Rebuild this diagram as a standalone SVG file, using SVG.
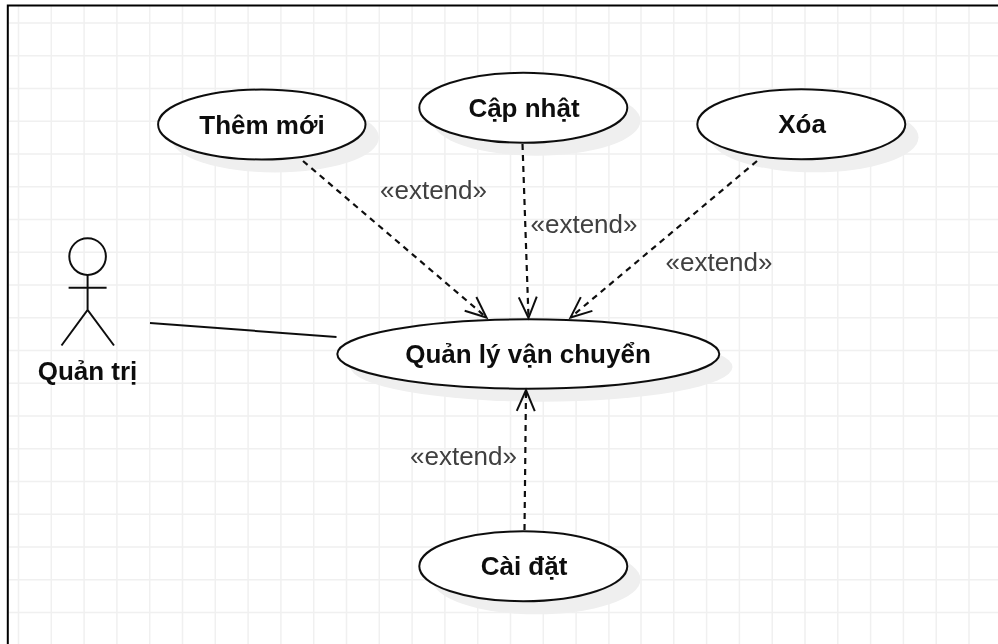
<svg xmlns="http://www.w3.org/2000/svg" width="998" height="644" viewBox="0 0 998 644">
<style>
.grid{stroke:#f0f0f0;stroke-width:1.5;fill:none}
.shadow{fill:#efefef;stroke:none}
.uc{fill:#fff;stroke:#111;stroke-width:2}
.name{font-family:"Liberation Sans",Arial,sans-serif;font-weight:700;font-size:26px;fill:#111;text-anchor:middle}
.ext{font-family:"Liberation Sans",Arial,sans-serif;font-size:26px;fill:#404040;text-anchor:middle}
.dash{stroke:#111;stroke-width:2.2;stroke-dasharray:6 5;fill:none}
.line{stroke:#111;stroke-width:2;fill:none}
</style>
<defs>
<filter id="soft" x="0" y="0" width="100%" height="100%" filterUnits="objectBoundingBox"><feGaussianBlur stdDeviation="0.4"/></filter>
<marker id="open" markerUnits="userSpaceOnUse" markerWidth="26" markerHeight="24" refX="23" refY="12" orient="auto">
<path d="M2 3L23 12L2 21" fill="none" stroke="#111" stroke-width="2"/>
</marker>
</defs>
<g filter="url(#soft)">
<rect width="998" height="644" fill="#fff"/>
<path class="grid" d="M18.5 6V644M51.3 6V644M84.1 6V644M116.9 6V644M149.7 6V644M182.5 6V644M215.3 6V644M248.1 6V644M280.9 6V644M313.7 6V644M346.5 6V644M379.3 6V644M412.1 6V644M444.9 6V644M477.7 6V644M510.5 6V644M543.3 6V644M576.1 6V644M608.9 6V644M641 6V644M673.8 6V644M706.6 6V644M739.4 6V644M772.2 6V644M805 6V644M837.8 6V644M870.6 6V644M903.4 6V644M936.2 6V644M969 6V644M8 23H998M8 55.75H998M8 88.5H998M8 121.25H998M8 154H998M8 186.75H998M8 219.5H998M8 252.25H998M8 285H998M8 317.75H998M8 350.5H998M8 383.25H998M8 416H998M8 448.75H998M8 481.5H998M8 514.25H998M8 547H998M8 579.75H998M8 612.5H998"/>
<path d="M7.8 644V5.5H998" fill="none" stroke="#000" stroke-width="2"/>
<g id="actor">
<circle class="line" cx="87.6" cy="256.6" r="18.3"/>
<path class="line" d="M87.6 275V310M68.6 287.7H106.6M61.5 345.5L87.6 310L114 345.5"/>
<text class="name" x="87.5" y="380">Quản trị</text>
</g>
<g id="them-moi">
<ellipse class="shadow" cx="275" cy="137.5" rx="104" ry="35"/>
<ellipse class="uc" cx="261.8" cy="124.5" rx="103.7" ry="35"/>
<text class="name" x="262" y="133.5">Thêm mới</text>
</g>
<g id="cap-nhat">
<ellipse class="shadow" cx="536.5" cy="120.7" rx="104" ry="35"/>
<ellipse class="uc" cx="523.3" cy="107.7" rx="104" ry="35"/>
<text class="name" x="524" y="116.7">Cập nhật</text>
</g>
<g id="xoa">
<ellipse class="shadow" cx="814.5" cy="137.3" rx="104" ry="35"/>
<ellipse class="uc" cx="801.3" cy="124.3" rx="104" ry="35"/>
<text class="name" x="802" y="133.3">Xóa</text>
</g>
<g id="quan-ly-van-chuyen">
<ellipse class="shadow" cx="541.5" cy="367" rx="191" ry="34.7"/>
<ellipse class="uc" cx="528.3" cy="354" rx="191" ry="34.7"/>
<text class="name" x="528" y="362.7">Quản lý vận chuyển</text>
</g>
<g id="cai-dat">
<ellipse class="shadow" cx="536.5" cy="579.3" rx="104" ry="35"/>
<ellipse class="uc" cx="523.3" cy="566.3" rx="104" ry="35"/>
<text class="name" x="524" y="575">Cài đặt</text>
</g>
<g id="connectors">
<path class="line" d="M150 323L336.5 337"/>
<path class="dash" d="M303 161L486.5 317.5" marker-end="url(#open)"/>
<path class="dash" d="M522.5 144L528.5 318" marker-end="url(#open)"/>
<path class="dash" d="M757 161L570.5 317.5" marker-end="url(#open)"/>
<path class="dash" d="M524.5 530L526 390" marker-end="url(#open)"/>
<text class="ext" x="433.5" y="198.5">«extend»</text>
<text class="ext" x="584" y="232.5">«extend»</text>
<text class="ext" x="719" y="270.5">«extend»</text>
<text class="ext" x="463.5" y="465">«extend»</text>
</g>
</g>
</svg>
